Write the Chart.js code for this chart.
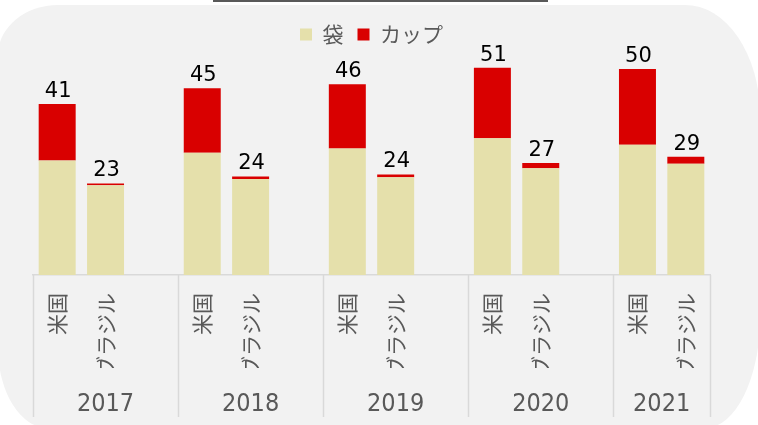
<!DOCTYPE html>
<html>
<head>
<meta charset="utf-8">
<script src="https://cdn.jsdelivr.net/npm/chart.js@4.4.1/dist/chart.umd.min.js"></script>
<style>
  html, body { margin: 0; padding: 0; background: #ffffff; }
  #wrap { position: relative; width: 758px; height: 425px; overflow: hidden; }
  #panel {
    position: absolute; left: -2px; top: 5px; width: 762px; height: 423px;
    background: #f2f2f2;
    border-top-left-radius: 60px 50px;
    border-top-right-radius: 75px 110px;
    border-bottom-left-radius: 50px 80px;
    border-bottom-right-radius: 55px 110px;
  }
  #topline { position: absolute; left: 213px; top: 0; width: 335px; height: 2px; background: #595959; }
  canvas { position: absolute; left: 0; top: 0; }
</style>
</head>
<body>
<div id="wrap">
  <div id="panel"></div>
  <div id="topline"></div>
  <canvas id="chart" width="758" height="425"></canvas>
</div>
<script>
// categories: 2 countries per year, a blank slot between years
const categories = ['米国', 'ブラジル', '', '米国', 'ブラジル', '', '米国', 'ブラジル', '', '米国', 'ブラジル', '', '米国', 'ブラジル'];
const years = ['2017', '2018', '2019', '2020', '2021'];

// values (bar heights)
const bag = [27.8, 21.8, null, 29.7, 23.3, null, 30.7, 23.7, null, 33.2, 25.9, null, 31.6, 27.0];
const cup = [13.7, 0.4, null, 15.6, 0.6, null, 15.6, 0.7, null, 17.1, 1.3, null, 18.4, 1.7];
// total labels as printed on the chart
const totals = [41, 23, null, 45, 24, null, 46, 24, null, 51, 27, null, 50, 29];

const JP = "'Noto Sans CJK JP', sans-serif";
const GREY = '#595959';

// totals above each bar + year row with separators
const extras = {
  id: 'extras',
  afterDatasetsDraw(chart) {
    const ctx = chart.ctx;
    const meta = chart.getDatasetMeta(1);
    ctx.save();
    ctx.font = "21px 'DejaVu Sans'";
    ctx.fillStyle = '#000000';
    ctx.textAlign = 'center';
    ctx.textBaseline = 'bottom';
    totals.forEach((t, i) => {
      if (t == null) return;
      const bar = meta.data[i];
      ctx.fillText(String(t), bar.x + 1, bar.y - 2);
    });
    ctx.restore();
  },
  afterDraw(chart) {
    const ctx = chart.ctx;
    const x = chart.scales.x;
    const w = (x.right - x.left) / categories.length;
    const top = chart.chartArea.bottom;
    const starts = [];
    categories.forEach((c, i) => { if (c === '米国') starts.push(i); });
    const bounds = starts.concat([categories.length]);

    ctx.save();
    ctx.strokeStyle = '#d9d9d9';
    ctx.lineWidth = 1.5;
    bounds.forEach(b => {
      const px = Math.round(x.left + b * w) + 0.5;
      ctx.beginPath();
      ctx.moveTo(px, top);
      ctx.lineTo(px, 417);
      ctx.stroke();
    });

    ctx.font = "25px 'DejaVu Sans Condensed', 'Liberation Sans', sans-serif";
    ctx.fillStyle = GREY;
    ctx.textAlign = 'center';
    ctx.textBaseline = 'middle';
    years.forEach((y, k) => {
      const mid = x.left + (bounds[k] + bounds[k + 1]) / 2 * w;
      ctx.fillText(y, mid, 404);
    });
    ctx.restore();
  }
};

new Chart(document.getElementById('chart'), {
  type: 'bar',
  data: {
    labels: categories,
    datasets: [
      { label: '袋', data: bag, backgroundColor: '#e5e0ab' },
      { label: 'カップ', data: cup, backgroundColor: '#d90000' }
    ]
  },
  options: {
    responsive: false,
    animation: false,
    layout: { padding: { left: 33, right: 48, top: 10, bottom: 57 } },
    datasets: { bar: { categoryPercentage: 1, barPercentage: 0.765 } },
    scales: {
      x: {
        stacked: true,
        grid: { display: false, drawTicks: false },
        border: { display: true, color: '#d9d9d9', width: 1.5 },
        ticks: {
          autoSkip: false,
          minRotation: 90,
          maxRotation: 90,
          padding: 18,
          color: GREY,
          font: { family: JP, size: 21 }
        },
        afterFit(scale) { scale.height = 93; }
      },
      y: { stacked: true, display: false, min: 0, max: 53.4 }
    },
    plugins: {
      legend: {
        position: 'top',
        labels: {
          boxWidth: 12,
          boxHeight: 12,
          padding: 14,
          color: GREY,
          font: { family: JP, size: 21 }
        }
      },
      tooltip: { enabled: false }
    }
  },
  plugins: [extras]
});
</script>
</body>
</html>
